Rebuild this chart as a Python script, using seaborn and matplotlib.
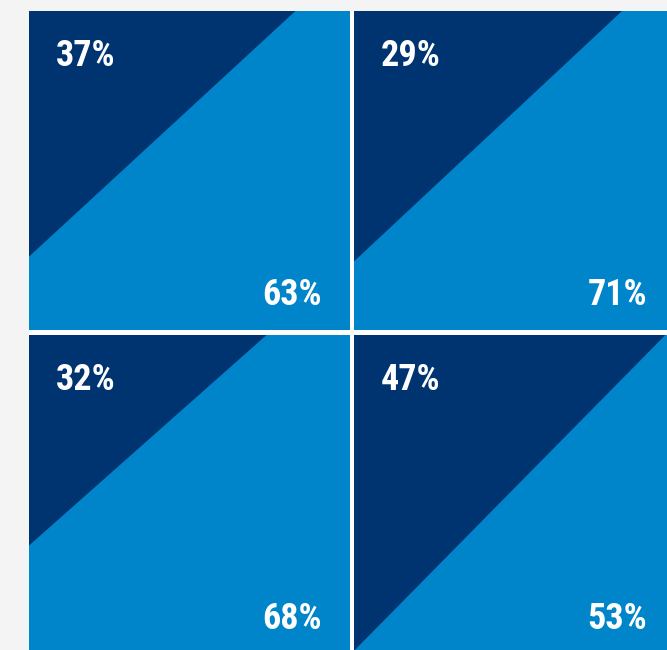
import matplotlib
matplotlib.use("Agg")
import matplotlib.pyplot as plt
import seaborn as sns

# shares shown in each tile (dark part / light part)
dark_share = [37, 29, 32, 47]
light_share = [63, 71, 68, 53]

# how far the dark corner triangle reaches along top / left edge
dark_w = [0.83, 0.835, 0.74, 0.97]
dark_h = [0.77, 0.785, 0.66, 0.99]

DARK = "#003471"
LIGHT = "#0084CA"
BG = "#f4f4f4"


def main():
    sns.set_style("white")
    plt.rcParams["font.family"] = ["Roboto Condensed", "Roboto", "DejaVu Sans"]

    W, H = 667, 650
    fig = plt.figure(figsize=(W / 100, H / 100), dpi=100, facecolor=BG)

    # white backing that shows through the gaps between tiles
    back = fig.add_axes([29 / W, 0, 1 - 29 / W, 1 - 11 / H])
    back.set_axis_off()
    back.add_patch(plt.Rectangle((0, 0), 1, 1, transform=back.transAxes,
                                 facecolor="white", edgecolor="none"))

    tile_w, tile_h = 321, 319
    lefts = [29, 354]
    tops = [11, 335]

    for i in range(4):
        r, c = divmod(i, 2)
        x0, y0 = lefts[c], tops[r]
        ax = fig.add_axes([x0 / W, 1 - (y0 + tile_h) / H, tile_w / W, tile_h / H])
        ax.set_xlim(0, 1)
        ax.set_ylim(0, 1)
        ax.set_facecolor(LIGHT)
        ax.fill([0, dark_w[i], 0], [1, 1, 1 - dark_h[i]], color=DARK, lw=0)
        ax.set_xticks([])
        ax.set_yticks([])
        sns.despine(ax=ax, left=True, bottom=True)

        ax.annotate(f"{dark_share[i]}%", xy=(0, 1), xycoords="axes fraction",
                    xytext=(27, -55), textcoords="offset pixels",
                    ha="left", va="baseline", color="white",
                    fontsize=26, fontweight="bold", fontstretch="condensed")
        ax.annotate(f"{light_share[i]}%", xy=(1, 0), xycoords="axes fraction",
                    xytext=(-28, 25), textcoords="offset pixels",
                    ha="right", va="baseline", color="white",
                    fontsize=26, fontweight="bold", fontstretch="condensed")

    fig.savefig("out.png", dpi=100, facecolor=BG)


if __name__ == "__main__":
    main()
